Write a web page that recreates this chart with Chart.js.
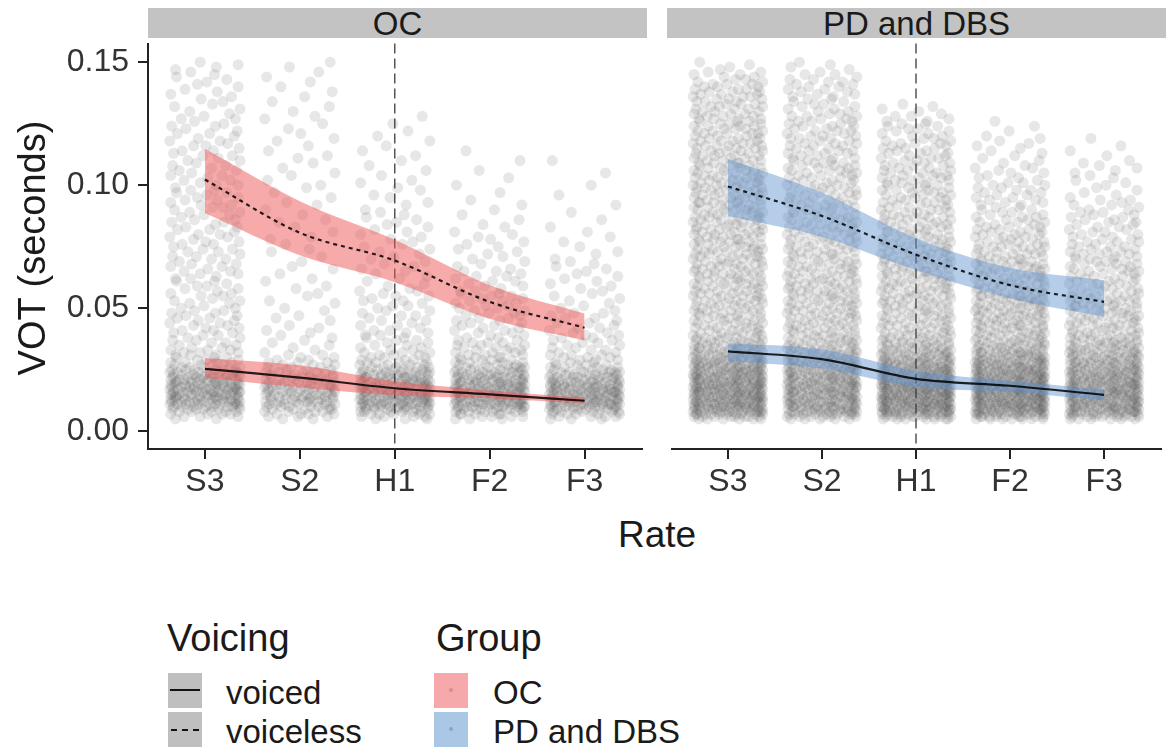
<!DOCTYPE html>
<html>
<head>
<meta charset="utf-8">
<script src="https://cdn.jsdelivr.net/npm/chart.js@4.4.1/dist/chart.umd.min.js"></script>
<style>
  body { margin: 0; background: #fff; font-family: "Liberation Sans", Arial, sans-serif; color: #1a1a1a; }
  #page { position: relative; width: 1166px; height: 749px; overflow: hidden; }
  canvas { position: absolute; }
  .strip { position: absolute; top: 8px; height: 30px; background: #c3c3c3; font-size: 33px; line-height: 32px; text-align: center; }
  .abs { position: absolute; white-space: nowrap; }
  .key { position: absolute; width: 34px; height: 35px; }
  .lab { position: absolute; font-size: 33px; line-height: 35px; white-space: nowrap; }
</style>
</head>
<body>
<div id="page">
  <div class="strip" style="left:148px;width:499px">OC</div>
  <div class="strip" style="left:667px;width:499px">PD and DBS</div>
  <canvas id="panel0" width="647" height="462" style="left:0;top:38px"></canvas>
  <canvas id="panel1" width="500" height="462" style="left:666px;top:38px"></canvas>

  <div class="abs" style="left:-168px;top:228px;width:400px;height:40px;line-height:40px;font-size:38px;text-align:center;transform:rotate(-90deg)">VOT (seconds)</div>
  <div class="abs" style="left:457px;top:516px;width:400px;line-height:37px;font-size:37px;text-align:center">Rate</div>

  <!-- legend -->
  <div class="abs" style="left:167px;top:619px;font-size:38px;line-height:38px">Voicing</div>
  <div class="key" style="left:168px;top:673px;background:#bfbfbf"><div style="position:absolute;left:2px;right:2px;top:16px;height:2px;background:#111"></div></div>
  <div class="key" style="left:168px;top:712px;background:#bfbfbf"><div style="position:absolute;left:3px;right:1px;top:17px;height:2px;background:repeating-linear-gradient(90deg,#111 0 6px,transparent 6px 11px)"></div></div>
  <div class="lab" style="left:226px;top:675px">voiced</div>
  <div class="lab" style="left:226px;top:714px">voiceless</div>

  <div class="abs" style="left:436px;top:619px;font-size:38px;line-height:38px">Group</div>
  <div class="key" style="left:434px;top:673px;background:#f6a8aa"><div style="position:absolute;left:15px;top:15px;width:4px;height:4px;border-radius:2px;background:rgba(170,120,110,0.5)"></div></div>
  <div class="key" style="left:434px;top:712px;background:#aac7e6"><div style="position:absolute;left:15px;top:15px;width:4px;height:4px;border-radius:2px;background:rgba(120,130,150,0.5)"></div></div>
  <div class="lab" style="left:493px;top:675px">OC</div>
  <div class="lab" style="left:493px;top:714px">PD and DBS</div>
</div>

<script>
const rates = ["S3", "S2", "H1", "F2", "F3"];
const groupNames = ["OC", "PD and DBS"];
const refRate = "H1";
const yTicks = [0, 0.05, 0.10, 0.15];

// fitted VOT (seconds) with ribbon bounds, one value per rate
const ocVoicelessFit = [0.1023, 0.0807, 0.0694, 0.0526, 0.0421];
const ocVoicelessLo  = [0.0887, 0.0715, 0.0606, 0.0457, 0.0369];
const ocVoicelessHi  = [0.1148, 0.0935, 0.0778, 0.0594, 0.0479];
const ocVoicedFit    = [0.0254, 0.0218, 0.0175, 0.0150, 0.0124];
const ocVoicedLo     = [0.0218, 0.0178, 0.0146, 0.0134, 0.0112];
const ocVoicedHi     = [0.0298, 0.0268, 0.0203, 0.0166, 0.0136];

const pdVoicelessFit = [0.0995, 0.0875, 0.0718, 0.0594, 0.0526];
const pdVoicelessLo  = [0.0875, 0.0790, 0.0655, 0.0540, 0.0465];
const pdVoicelessHi  = [0.1108, 0.0970, 0.0785, 0.0665, 0.0614];
const pdVoicedFit    = [0.0325, 0.0293, 0.0213, 0.0185, 0.0148];
const pdVoicedLo     = [0.0285, 0.0255, 0.0180, 0.0160, 0.0126];
const pdVoicedHi     = [0.0358, 0.0333, 0.0245, 0.0205, 0.0169];

// raw tokens: how many tokens per 1 ms of VOT, starting at 5 ms, one list per rate
const firstMs = 5;
const ocCounts = [
  [2,3,4,5,6, 8,9,9,10,10,10,10,10,10,10, 9,9,8,8,7,6,5,4,4,3, 3,3,3,3,2,2,2,2,2,2, 2,2,2,2,2,2,2,2,2,2,
   2,1,2,2,1,2,2,1,2,2, 1,2,2,1,2,2,1,2,2,1, 2,2,1,2,2,1,2,2,1,2, 2,1,2,2,1,2,2,1,2,2, 1,2,2,1,2,2,1,2,2,1,
   2,1,2,1,2,1,2,1,2,1, 2,1,2,1,2,1,2,1,2,1, 1,2,1,1,2,1,1,2,1,1, 1,1,1,1,1,1,1,1,1,1, 1,1,1,1,1,1,1,1,1,1,1],
  [2,3,4,4,5, 6,6,7,7,7,7,7,7,7,7, 6,6,6,5,5,4,3,3,3,2, 2,2,1,1,1,1,1,1,1,1, 1,1,1,1,0,1,1,1,0,1,
   1,0,1,1,0,1,1,0,1,1, 0,1,1,0,1,0,1,1,0,1, 0,1,0,1,1,0,1,0,1,1, 0,1,0,1,0,1,1,0,1,0, 1,0,1,1,0,1,0,1,0,1,
   1,0,1,0,1,1,0,1,0,1, 0,1,1,0,1,0,1,0,1,1, 0,1,0,1,0,1,0,1,1,0, 1,0,1,0,1,0,1,0,1,0, 1,0,1,0,1,0,1,0,1,0,1],
  [3,4,5,6,8, 9,10,10,10,10,10,10,10,10,10, 9,9,8,8,7,6,5,4,4,3, 3,3,3,2,2,2,2,2,2,2, 2,2,1,2,1,2,1,2,1,2,
   1,2,1,2,1,2,1,2,1,1, 1,1,1,1,1,1,1,1,1,1, 1,1,1,1,1,1,1,1,1,1, 1,1,1,1,1,1,1,1,1,1, 1,0,1,1,0,1,1,0,1,1,
   0,1,1,0,1,0,1,0,1,0, 1,0,1,0,1,0,1,0,1,0, 1,0,1,0,0,1,0,0,1,0, 0,0,0,0,0,0,0,0,0,0, 0,0,0,0,0,0,0,0,0,0,0],
  [3,4,5,6,8, 9,10,10,10,10,10,10,10,10,10, 9,9,8,8,7,6,6,5,4,4, 4,3,3,3,3,3,3,2,2,2, 2,2,2,2,2,2,2,2,2,2,
   2,2,2,2,2,2,2,2,1,2, 1,2,1,2,1,2,1,1,1,1, 1,1,1,1,1,1,1,1,1,1, 1,1,0,1,1,0,1,0,1,0, 1,0,1,0,1,0,0,1,0,0,
   1,0,0,1,0,0,1,0,0,0, 1,0,0,0,1,0,0,0,0,0, 0,0,0,0,0,0,0,0,0,0, 0,0,0,0,0,0,0,0,0,0, 0,0,0,0,0,0,0,0,0,0,0],
  [3,4,5,6,8, 9,10,10,10,10,10,10,10,10,9, 9,8,7,7,6,5,4,4,3,3, 3,3,2,2,2,2,2,2,2,2, 2,1,2,1,2,1,2,1,2,1,
   1,1,1,1,1,1,1,1,1,1, 1,1,1,1,1,1,1,1,1,1, 1,0,1,1,0,1,0,1,0,1, 0,1,0,1,0,0,1,0,0,1, 0,0,1,0,0,0,1,0,0,0,
   1,0,0,0,0,1,0,0,0,0, 1,0,0,0,0,0,0,0,0,0, 0,0,0,0,0,0,0,0,0,0, 0,0,0,0,0,0,0,0,0,0, 0,0,0,0,0,0,0,0,0,0,0]
];
const pdCounts = [
  [6,8,10,11,12, 12,12,12,12,12,12,12,12,12,12, 12,11,11,11,11,10,10,10,9,9, 8,8,7,7,6,6,6,5,5,5, 4,4,4,4,4,4,4,4,4,4,
   4,4,4,4,4,4,4,4,4,4, 4,4,4,4,4,4,4,4,4,4, 4,4,4,4,4,4,4,4,4,4, 4,4,4,4,4,4,4,4,4,4, 4,4,4,4,4,4,4,4,4,4,
   4,4,4,4,4,3,4,4,3,4, 4,3,4,3,4,3,4,3,4,3, 3,4,3,3,4,3,3,4,3,3, 3,3,3,3,3,3,3,3,3,3, 3,3,2,2,2,2,2,1,1,1,1],
  [5,7,9,10,10, 10,10,10,10,10,10,10,10,10,10, 10,10,9,9,9,9,8,8,8,7, 7,7,6,6,6,5,5,5,5,4, 4,4,4,4,4,4,4,4,4,4,
   4,4,4,4,4,4,4,4,4,4, 4,4,4,3,4,4,3,4,4,3, 4,3,4,3,4,3,4,3,4,3, 3,4,3,3,4,3,3,4,3,3, 3,3,3,3,3,3,3,3,3,3,
   3,3,3,3,3,3,3,3,3,3, 3,3,2,3,3,2,3,3,2,3, 3,2,3,2,3,2,3,2,3,2, 2,2,2,2,2,2,2,2,2,2, 2,2,2,2,1,2,1,1,1,1,1],
  [7,9,11,12,13, 13,13,13,13,13,13,13,13,13,13, 12,12,12,11,11,11,10,10,9,9, 8,8,7,7,6,6,6,5,5,5, 4,4,4,4,4,4,4,4,4,4,
   4,4,4,4,4,4,4,4,4,4, 4,4,4,4,4,4,4,4,4,4, 4,4,4,3,4,4,3,4,4,3, 3,4,3,3,4,3,3,4,3,3, 3,3,3,3,3,3,3,3,3,3,
   3,3,3,3,3,3,3,2,3,3, 2,3,2,3,2,3,2,3,2,2, 2,2,2,2,2,2,2,1,2,1, 1,1,1,1,0,0,0,0,0,0, 0,0,0,0,0,0,0,0,0,0,0],
  [7,9,11,12,13, 13,13,13,13,13,13,13,13,13,13, 12,12,12,12,11,11,11,10,10,9, 9,8,8,7,7,6,6,6,5,5, 5,5,5,5,5,5,5,5,5,5,
   5,5,5,5,5,5,5,4,4,4, 4,4,4,4,4,4,4,4,4,4, 4,3,4,3,3,4,3,3,3,3, 3,3,3,3,2,3,2,3,2,2, 2,2,2,2,2,2,2,2,2,2,
   2,2,1,2,1,2,1,2,1,1, 1,1,1,1,1,1,1,1,1,1, 1,0,1,0,1,0,1,0,0,0, 0,0,0,0,0,0,0,0,0,0, 0,0,0,0,0,0,0,0,0,0,0],
  [6,8,10,11,11, 11,11,11,11,11,11,11,11,11,11, 11,10,10,10,10,9,9,9,8,8, 8,7,7,7,6,6,6,5,5,5, 4,4,4,4,4,4,4,4,4,4,
   4,4,4,4,4,3,3,3,3,3, 3,3,3,3,3,3,3,3,3,3, 3,3,3,3,2,3,2,3,2,2, 2,2,2,2,2,2,2,2,2,2, 2,1,2,1,2,1,1,1,1,1,
   1,1,1,1,1,1,1,1,1,1, 1,0,1,0,1,0,1,0,0,1, 0,0,0,0,0,0,0,0,0,0, 0,0,0,0,0,0,0,0,0,0, 0,0,0,0,0,0,0,0,0,0,0]
];

// horizontal jitter (in rate units) given to successive tokens of a column
const jitter = [-0.31,0.12,0.35,-0.05,-0.22,0.27,0.03,-0.36,0.18,-0.14,0.33,-0.27,0.07,0.22,-0.34,-0.09,0.37,-0.18,0.14,-0.02,0.29,-0.33,0.09,-0.24,0.36,0.01,-0.12,0.24,-0.37,0.16,-0.07,0.31,-0.29,0.05,0.34,-0.2,0.11,-0.35,0.2,-0.11,0.32,-0.25,-0.01,0.26,-0.16,0.37,-0.32,0.08,0.19,-0.04,0.28,-0.36,0.13,-0.21,0.35,-0.08,0.02,0.23,-0.3,0.1,-0.15];

const panels = [
  {counts: ocCounts, fill: "rgba(240,85,85,0.5)",
   voiceless: [ocVoicelessFit, ocVoicelessLo, ocVoicelessHi], voiced: [ocVoicedFit, ocVoicedLo, ocVoicedHi]},
  {counts: pdCounts, fill: "rgba(90,145,205,0.45)",
   voiceless: [pdVoicelessFit, pdVoicelessLo, pdVoicelessHi], voiced: [pdVoicedFit, pdVoicedLo, pdVoicedHi]}
];

Chart.defaults.font.family = '"Liberation Sans", Arial, sans-serif';

const toXY = arr => arr.map((v, i) => ({x: i + 1, y: v}));

const refLine = {
  id: "refLine",
  beforeDatasetsDraw(chart) {
    const {ctx, chartArea, scales} = chart;
    const x = scales.x.getPixelForValue(rates.indexOf(refRate) + 1);
    ctx.save();
    ctx.strokeStyle = "#555";
    ctx.lineWidth = 1.5;
    ctx.setLineDash([10, 5]);
    ctx.beginPath();
    ctx.moveTo(x, chartArea.top);
    ctx.lineTo(x, chartArea.bottom);
    ctx.stroke();
    ctx.restore();
  }
};

function makePanel(g) {
  const p = panels[g];
  const pts = [];
  p.counts.forEach((col, c) => {
    let k = c * 17;
    col.forEach((n, i) => {
      for (let j = 0; j < n; j++) {
        pts.push({x: c + 1 + jitter[k % jitter.length], y: (firstMs + i) / 1000});
        k++;
      }
    });
  });
  const datasets = [{
    data: pts, showLine: false, pointRadius: 5.5, pointBorderWidth: 0,
    pointBackgroundColor: "rgba(60,60,60,0.12)", order: 10
  }];
  [p.voiceless, p.voiced].forEach((v, k) => {
    datasets.push({data: toXY(v[2]), showLine: true, borderColor: "transparent", pointRadius: 0,
      fill: "+1", backgroundColor: p.fill, cubicInterpolationMode: "monotone", order: 5});
    datasets.push({data: toXY(v[1]), showLine: true, borderColor: "transparent", pointRadius: 0,
      fill: false, cubicInterpolationMode: "monotone", order: 5});
    datasets.push({data: toXY(v[0]), showLine: true, borderColor: "rgba(0,0,0,0.85)", borderWidth: 2.2,
      borderDash: k === 0 ? [4, 4] : [], pointRadius: 0, fill: false, cubicInterpolationMode: "monotone", order: 1});
  });

  return new Chart(document.getElementById("panel" + g), {
    type: "line",
    data: {datasets: datasets},
    plugins: [refLine],
    options: {
      responsive: false,
      animation: false,
      layout: {padding: 0},
      plugins: {legend: {display: false}, tooltip: {enabled: false}},
      scales: {
        x: {
          type: "linear", min: 0.4, max: 5.6,
          afterBuildTicks: s => { s.ticks = rates.map((r, i) => ({value: i + 1})); },
          afterFit: s => { s.height = 51; s.paddingLeft = 0; s.paddingRight = 0; },
          ticks: {callback: v => rates[Math.round(v) - 1], color: "#333", font: {size: 32}, padding: 4, maxRotation: 0, autoSkip: false},
          grid: {drawOnChartArea: false, tickLength: 10, color: "#222", lineWidth: 2},
          border: {display: true, color: "#222", width: 2}
        },
        y: {
          display: g === 0, min: -0.0072, max: 0.1576,
          afterBuildTicks: s => { s.ticks = yTicks.map(v => ({value: v})); },
          afterFit: s => { s.width = g === 0 ? 148 : 0; s.paddingTop = 0; s.paddingBottom = 0; },
          ticks: {callback: v => v.toFixed(2), color: "#333", font: {size: 32}, padding: 9},
          grid: {drawOnChartArea: false, tickLength: 10, color: "#222", lineWidth: 2},
          border: {display: true, color: "#222", width: 2}
        }
      }
    }
  });
}

makePanel(0);
makePanel(1);
</script>
</body>
</html>
